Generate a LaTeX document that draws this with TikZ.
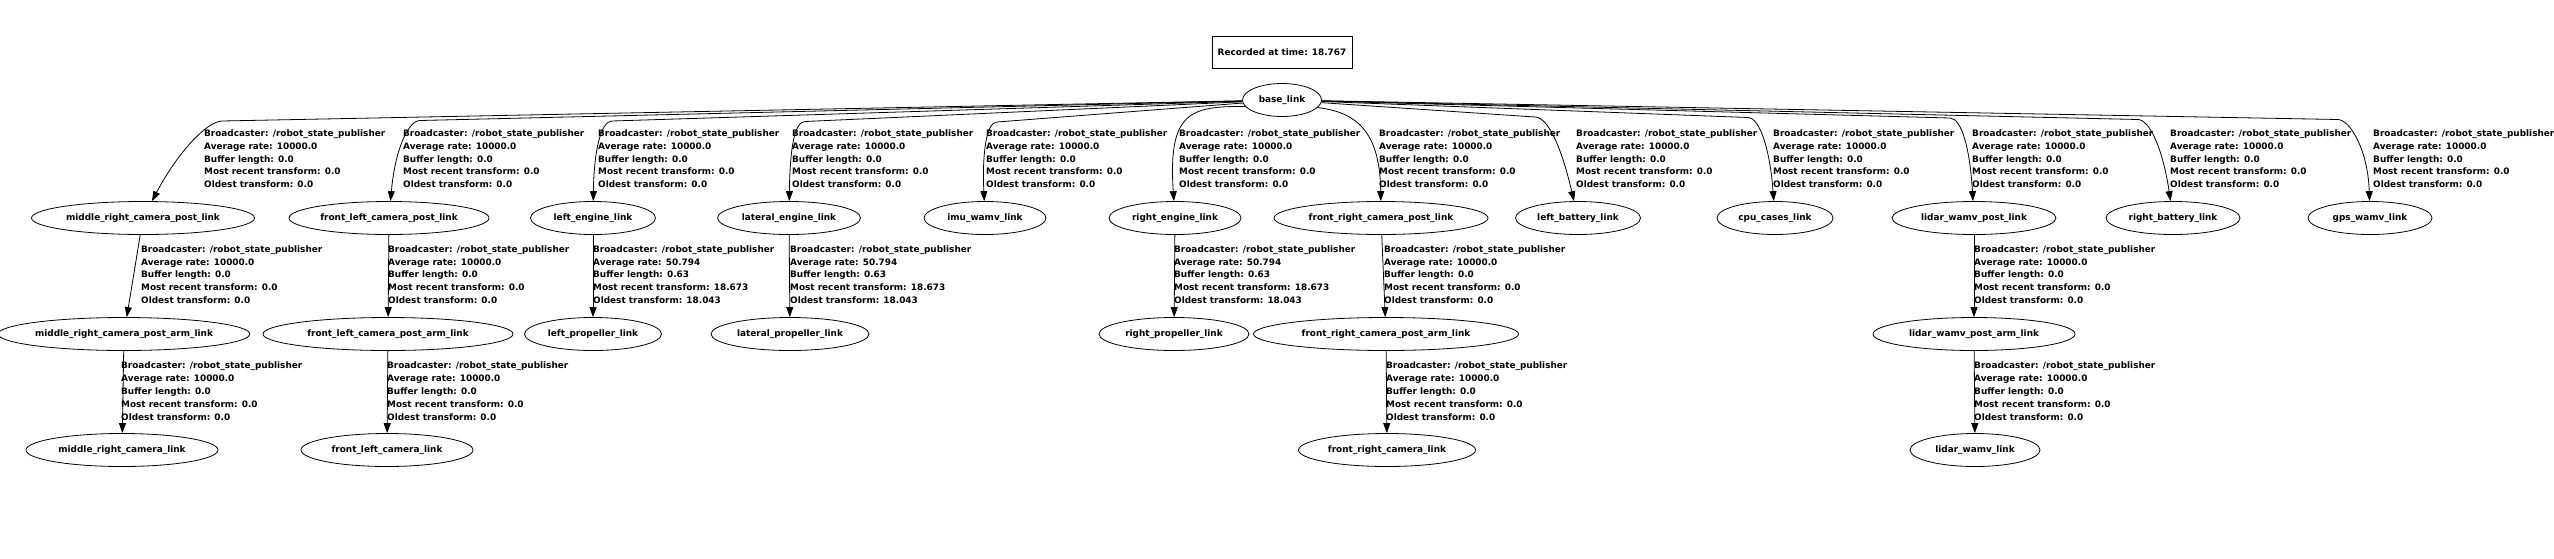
\documentclass[tikz,border=0pt]{standalone}
\usepackage{fontspec}
\setmainfont{DejaVu Sans}
\usetikzlibrary{shapes.geometric,arrows.meta}
\tikzset{
  lnk/.style={ellipse, draw, line width=0.8pt, inner sep=0pt, minimum height=33pt},
  lbl/.style={anchor=north west, inner sep=0pt, align=left},
  tfedge/.style={line width=0.8pt, -{Triangle[length=10pt,width=7pt]}},
}
\newcommand\statsA{Broadcaster: /robot\_state\_publisher\\Average rate: 10000.0\\Buffer length: 0.0\\Most recent transform: 0.0\\Oldest transform: 0.0}
\newcommand\statsB{Broadcaster: /robot\_state\_publisher\\Average rate: 50.794\\Buffer length: 0.63\\Most recent transform: 18.673\\Oldest transform: 18.043}
\begin{document}
\begin{tikzpicture}[x=1pt,y=-1pt,font=\fontsize{8.9}{12.8}\selectfont\bfseries]
\useasboundingbox (0,0) rectangle (2554,558);
\node[draw, line width=0.8pt, minimum width=140pt, minimum height=32pt, inner sep=0pt] (title) at (1282,52) {Recorded at time: 18.767};
\node[lnk, minimum width=79pt] (base) at (1282,100) {base\_link};
% row 1
\node[lnk, minimum width=223pt] (mrcp) at (143,218) {middle\_right\_camera\_post\_link};
\node[lnk, minimum width=200pt] (flcp) at (389,218) {front\_left\_camera\_post\_link};
\node[lnk, minimum width=125pt] (le) at (593,218) {left\_engine\_link};
\node[lnk, minimum width=143pt] (late) at (789,218) {lateral\_engine\_link};
\node[lnk, minimum width=122pt] (imu) at (985,218) {imu\_wamv\_link};
\node[lnk, minimum width=132pt] (re) at (1175,218) {right\_engine\_link};
\node[lnk, minimum width=214pt] (frcp) at (1381,218) {front\_right\_camera\_post\_link};
\node[lnk, minimum width=125pt] (lb) at (1578,218) {left\_battery\_link};
\node[lnk, minimum width=116pt] (cpu) at (1775,218) {cpu\_cases\_link};
\node[lnk, minimum width=164pt] (lwp) at (1974,218) {lidar\_wamv\_post\_link};
\node[lnk, minimum width=134pt] (rb) at (2173,218) {right\_battery\_link};
\node[lnk, minimum width=124pt] (gps) at (2370,218) {gps\_wamv\_link};
% row 2
\node[lnk, minimum width=248pt] (mrcpal) at (124,334) {middle\_right\_camera\_post\_arm\_link};
\node[lnk, minimum width=250pt] (flcpal) at (388,334) {front\_left\_camera\_post\_arm\_link};
\node[lnk, minimum width=137pt] (lpl) at (593,334) {left\_propeller\_link};
\node[lnk, minimum width=158pt] (latpl) at (790,334) {lateral\_propeller\_link};
\node[lnk, minimum width=150pt] (rpl) at (1174,334) {right\_propeller\_link};
\node[lnk, minimum width=265pt] (frcpal) at (1386,334) {front\_right\_camera\_post\_arm\_link};
\node[lnk, minimum width=202pt] (lwpal) at (1974,334) {lidar\_wamv\_post\_arm\_link};
% row 3
\node[lnk, minimum width=192pt] (mrcl) at (122,450) {middle\_right\_camera\_link};
\node[lnk, minimum width=172pt] (flcl) at (387,450) {front\_left\_camera\_link};
\node[lnk, minimum width=177pt] (frcl) at (1387,450) {front\_right\_camera\_link};
\node[lnk, minimum width=130pt] (lwl) at (1975,450) {lidar\_wamv\_link};
% top edges
\draw[tfedge] (base) -- (222,121) .. controls (207,121.3) and (178,152) .. (mrcp);
\draw[tfedge] (base) -- (420,120.5) .. controls (408,120.7) and (395,150) .. (flcp);
\draw[tfedge] (base) -- (612,121) .. controls (601,121.2) and (594,150) .. (le);
\draw[tfedge] (base) -- (805,121.5) .. controls (794,121.7) and (790,150) .. (late);
\draw[tfedge] (base) -- (997,122) .. controls (987,122.2) and (982,150) .. (imu);
\draw[tfedge] (base.190) .. controls (1190,106) and (1168,112) .. (re);
\draw[tfedge] (base.-12) .. controls (1355,112) and (1380,130) .. (frcp);
\draw[tfedge] (base) -- (1535,117) .. controls (1549,117.5) and (1562,150) .. (lb);
\draw[tfedge] (base) -- (1748,117.5) .. controls (1760,118) and (1770,150) .. (cpu);
\draw[tfedge] (base) -- (1950,118) .. controls (1962,118.5) and (1970,150) .. (lwp);
\draw[tfedge] (base) -- (2138,119.5) .. controls (2150,120) and (2163,150) .. (rb);
\draw[tfedge] (base) -- (2338,119.5) .. controls (2350,120) and (2368,150) .. (gps);
% lower edges
\draw[tfedge] (mrcp) -- (mrcpal);
\draw[tfedge] (flcp) -- (flcpal);
\draw[tfedge] (le) -- (lpl);
\draw[tfedge] (late) -- (latpl);
\draw[tfedge] (re) -- (rpl);
\draw[tfedge] (frcp) -- (frcpal);
\draw[tfedge] (lwp) -- (lwpal);
\draw[tfedge] (mrcpal) -- (mrcl);
\draw[tfedge] (flcpal) -- (flcl);
\draw[tfedge] (frcpal) -- (frcl);
\draw[tfedge] (lwpal) -- (lwl);
% top labels
\node[lbl] (t1) at (204,129.5) {\statsA};
\node[lbl] (t2) at (403,129.5) {\statsA};
\node[lbl] (t3) at (598,129.5) {\statsA};
\node[lbl] (t4) at (792,129.5) {\statsA};
\node[lbl] (t5) at (986,129.5) {\statsA};
\node[lbl] (t6) at (1179,129.5) {\statsA};
\node[lbl] (t7) at (1379,129.5) {\statsA};
\node[lbl] (t8) at (1576,129.5) {\statsA};
\node[lbl] (t9) at (1773,129.5) {\statsA};
\node[lbl] (t10) at (1972,129.5) {\statsA};
\node[lbl] (t11) at (2170,129.5) {\statsA};
\node[lbl] (t12) at (2373,129.5) {\statsA};
% row 2 labels
\node[lbl] (m1) at (141,245.3) {\statsA};
\node[lbl] (m2) at (388,245.3) {\statsA};
\node[lbl] (m3) at (593,245.3) {\statsB};
\node[lbl] (m4) at (790,245.3) {\statsB};
\node[lbl] (m5) at (1174,245.3) {\statsB};
\node[lbl] (m6) at (1384,245.3) {\statsA};
\node[lbl] (m7) at (1974,245.3) {\statsA};
% row 3 labels
\node[lbl] (b1) at (121,362) {\statsA};
\node[lbl] (b2) at (387,362) {\statsA};
\node[lbl] (b3) at (1386,362) {\statsA};
\node[lbl] (b4) at (1974,362) {\statsA};
\end{tikzpicture}
\end{document}
